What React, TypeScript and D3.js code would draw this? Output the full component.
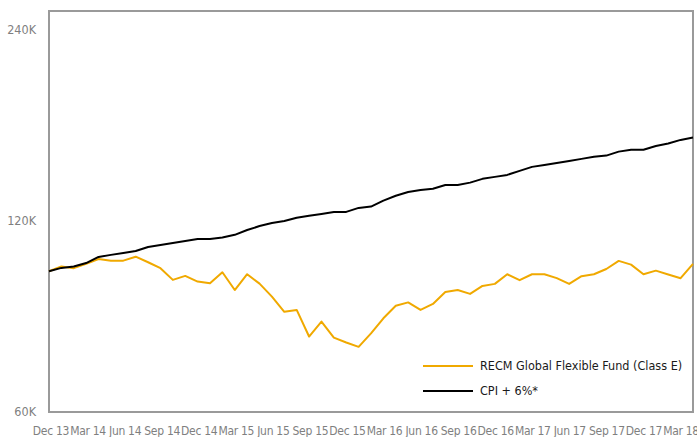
import { line, scaleLinear, scaleLog, scalePoint } from "d3";
import React from "react";

// monthly values, growth of 100K (in thousands)
const fund = [
	100, 101.7, 101.1, 102.7, 104.5, 103.9, 103.9, 105.4, 103.3, 101.1, 96.9,
	98.3, 96.3, 95.7, 99.6, 93.4, 98.9, 95.6, 91.2, 86.3, 86.9, 78.9, 83.3,
	78.6, 77.2, 76.0, 79.8, 84.3, 88.2, 89.3, 86.9, 88.8, 92.7, 93.4, 92.1,
	94.8, 95.5, 98.9, 96.8, 98.9, 98.9, 97.5, 95.5, 98.2, 98.9, 100.8, 103.8,
	102.4, 98.9, 100.2, 98.8, 97.5, 102.7,
];
const cpi = [
	100, 101.2, 101.7, 103.0, 105.3, 106.1, 106.8, 107.6, 109.2, 110.0, 110.8,
	111.6, 112.4, 112.4, 113.0, 114.1, 116.1, 117.8, 119.1, 120.0, 121.4, 122.3,
	123.1, 124.0, 124.0, 125.8, 126.4, 129.2, 131.5, 133.3, 134.3, 134.9, 136.7,
	136.7, 137.9, 139.8, 140.8, 141.8, 143.9, 146.0, 147.0, 148.1, 149.2, 150.3,
	151.4, 152.1, 154.3, 155.4, 155.4, 157.5, 158.9, 161.0, 162.4,
];
const xLabels = [
	"Dec 13", "Mar 14", "Jun 14", "Sep 14", "Dec 14", "Mar 15", "Jun 15",
	"Sep 15", "Dec 15", "Mar 16", "Jun 16", "Sep 16", "Dec 16", "Mar 17",
	"Jun 17", "Sep 17", "Dec 17", "Mar 18",
];
const yTicks = [60, 120, 240];
const seriesNames = ["RECM Global Flexible Fund (Class E)", "CPI + 6%*"];
const seriesColors = ["#f0a900", "#000000"];

const W = 697;
const H = 437;
const margin = { top: 11, right: 4, bottom: 25, left: 49 };
const font = "'Liberation Sans Narrow', 'Arial Narrow', 'DejaVu Sans Condensed', sans-serif";

const App: React.FC = () => {
	const x = scaleLinear()
		.domain([0, fund.length - 1])
		.range([margin.left, W - margin.right]);
	// labels sit evenly along the bottom, a bit left of the last point
	const xl = scalePoint<string>()
		.domain(xLabels)
		.range([margin.left + 2, W - margin.right - 12]);
	const y = scaleLog()
		.domain([60, 257])
		.range([H - margin.bottom, margin.top]);

	const path = line<number>()
		.x((_, i) => x(i))
		.y((d) => y(d));

	return (
		<svg
			width={W}
			height={H}
			style={{ position: "absolute", left: 0, top: 0, background: "#fff" }}
			fontFamily={font}>
			<rect
				x={margin.left}
				y={margin.top}
				width={W - margin.left - margin.right}
				height={H - margin.top - margin.bottom}
				fill="none"
				stroke="#9a9a9a"
				strokeWidth={2}
			/>
			{yTicks.map((t) => (
				<text
					key={t}
					x={36}
					y={y(t)}
					dy="0.35em"
					textAnchor="end"
					fontSize={12.5}
					fill="#7f7f7f">
					{t}K
				</text>
			))}
			{xLabels.map((l) => (
				<text
					key={l}
					x={xl(l) || 0}
					y={431}
					dy="0.35em"
					textAnchor="middle"
					fontSize={12}
					letterSpacing={-0.3}
					fill="#7f7f7f">
					{l}
				</text>
			))}
			{[fund, cpi].map((s, i) => (
				<path
					key={i}
					d={path(s) || ""}
					fill="none"
					stroke={seriesColors[i]}
					strokeWidth={2}
					strokeLinejoin="round"
				/>
			))}
			{seriesNames.map((n, i) => (
				<g key={n} transform={`translate(423, ${366 + i * 25})`}>
					<line x1={0} x2={50} y1={0} y2={0} stroke={seriesColors[i]} strokeWidth={2} />
					<text x={57} y={0} dy="0.35em" fontSize={12.5} fill="#1a1a1a">
						{n}
					</text>
				</g>
			))}
		</svg>
	);
};

export default App;
